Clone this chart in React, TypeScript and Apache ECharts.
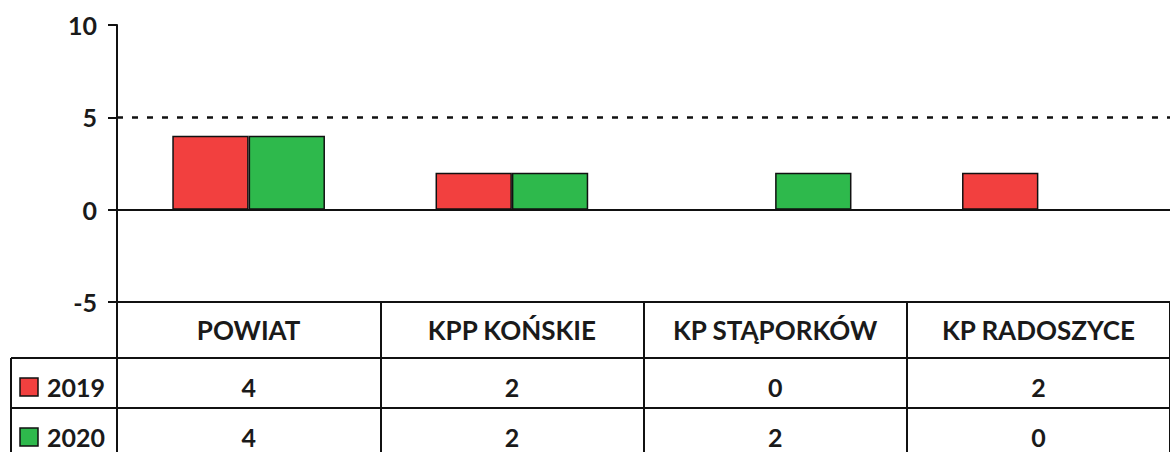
import React, { useEffect, useRef } from 'react';
import * as echarts from 'echarts';

const categories = ['POWIAT', 'KPP KOŃSKIE', 'KP STĄPORKÓW', 'KP RADOSZYCE'];
const seriesNames = ['2019', '2020'];
const values2019 = [4, 2, 0, 2];
const values2020 = [4, 2, 2, 0];
const yMin = -5;
const yMax = 10;
const yInterval = 5;
const referenceValue = 5;

const seriesValues = [values2019, values2020];
const colors = ['#F2403F', '#2EB94C'];
const FONT = 'Lato';
const FS = 25;
const FS_CAT = 26;

export default function App() {
  const ref = useRef<HTMLDivElement>(null);
  useEffect(() => {
    if (!ref.current) return;
    const chart = echarts.init(ref.current, null, { renderer: 'svg' });
    chart.setOption({
      animation: false,
      textStyle: { fontFamily: FONT },
      grid: { left: 117, top: 25, bottom: 150, width: 1062 },
      xAxis: {
        type: 'category',
        data: categories,
        position: 'bottom',
        axisLine: { onZero: false, lineStyle: { color: '#111', width: 2 } },
        axisTick: { show: true, interval: 0, length: 160, lineStyle: { color: '#111', width: 2 } },
        axisLabel: { interval: 0, hideOverlap: false, margin: 15, color: '#1a1a1a', fontSize: FS_CAT, fontWeight: 'bold', fontFamily: FONT },
        splitLine: { show: false },
      },
      yAxis: {
        type: 'value',
        min: yMin,
        max: yMax,
        interval: yInterval,
        axisLine: { show: true, lineStyle: { color: '#111', width: 2 } },
        axisTick: { show: true, length: 9, lineStyle: { color: '#111', width: 2 } },
        axisLabel: { margin: 20, color: '#1a1a1a', fontSize: FS, fontWeight: 'bold', fontFamily: FONT },
        splitLine: { show: false },
      },
      series: seriesNames.map((name, i) => ({
        type: 'bar',
        name,
        data: seriesValues[i],
        barGap: '0%',
        barCategoryGap: '42%',
        itemStyle: { color: colors[i], borderColor: '#111', borderWidth: 1.5 },
        ...(i === 0
          ? {
              markLine: {
                silent: true,
                symbol: 'none',
                label: { show: false },
                data: [
                  { yAxis: 0, lineStyle: { type: 'solid', color: '#111', width: 2 } },
                  { yAxis: referenceValue, lineStyle: { type: [6, 9], color: '#111', width: 2.5 } },
                ],
              },
            }
          : {}),
      })),
    });

    const axisY = chart.convertToPixel({ yAxisIndex: 0 }, yMin) as number;
    const row1Top = axisY + 56;
    const row2Top = row1Top + 50;
    const rowH = 50;
    const leftX = 11;
    const elements: any[] = [];
    [row1Top, row2Top].forEach((y) => {
      elements.push({ type: 'line', shape: { x1: leftX, y1: y, x2: 1170, y2: y }, style: { stroke: '#111', lineWidth: 2 } });
    });
    elements.push({ type: 'line', shape: { x1: leftX, y1: row1Top, x2: leftX, y2: 452 }, style: { stroke: '#111', lineWidth: 2 } });
    seriesNames.forEach((name, r) => {
      const top = r === 0 ? row1Top : row2Top;
      const cy = top + rowH / 2 + 4;
      elements.push({ type: 'rect', shape: { x: 20, y: cy - 9, width: 18, height: 18 }, style: { fill: colors[r], stroke: '#111', lineWidth: 1.5 } });
      elements.push({ type: 'text', x: 47, y: cy, style: { text: name, fill: '#1a1a1a', font: `bold ${FS}px ${FONT}`, textAlign: 'left', textVerticalAlign: 'middle' } });
      categories.forEach((c, ci) => {
        const cx = chart.convertToPixel({ xAxisIndex: 0 }, ci) as number;
        elements.push({ type: 'text', x: cx, y: cy, style: { text: String(seriesValues[r][ci]), fill: '#1a1a1a', font: `bold ${FS}px ${FONT}`, textAlign: 'center', textVerticalAlign: 'middle' } });
      });
    });
    chart.setOption({ graphic: elements });
    return () => chart.dispose();
  }, []);
  return <div ref={ref} style={{ position: 'fixed', left: 0, top: 0, width: 1170, height: 452, background: '#fff' }} />;
}
